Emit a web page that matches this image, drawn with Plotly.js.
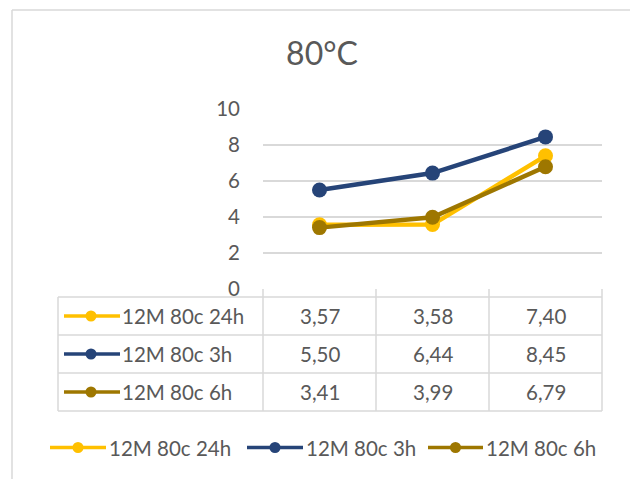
<!DOCTYPE html>
<html>
<head>
<meta charset="utf-8">
<script src="https://cdn.plot.ly/plotly-3.0.1.min.js"></script>
<style>
  html, body { margin: 0; padding: 0; background: #ffffff; }
  #chart { width: 630px; height: 479px; }
</style>
</head>
<body>
<div id="chart"></div>
<script>
// Series data (one value per column of the data table)
const categories = [0, 1, 2];
const seriesNames = ['12M 80c 24h', '12M 80c 3h', '12M 80c 6h'];
const values24h = [3.57, 3.58, 7.40];
const values3h = [5.50, 6.44, 8.45];
const values6h = [3.41, 3.99, 6.79];
const yTicks = [0, 2, 4, 6, 8, 10];
const chartTitle = '80°C';

const seriesValues = [values24h, values3h, values6h];
const colors = ['#FFC000', '#264478', '#9E7700'];
const textColor = '#595959';
const gridColor = '#d9d9d9';
const fontFamily = 'Lato, "Open Sans", sans-serif';
const fontSize = 20.5;

// Plot area geometry in pixels (used to convert to paper coordinates)
const W = 630, H = 479;
const L = 263, R = 28, T = 109, B = 190;
const plotW = W - L - R, plotH = H - T - B;
const px = X => (X - L) / plotW;
const py = Y => (H - B - Y) / plotH;

const fmt = v => v.toFixed(2).replace('.', ',');

const traces = seriesValues.map((vals, i) => ({
  type: 'scatter',
  mode: 'lines+markers',
  x: categories,
  y: vals,
  name: seriesNames[i],
  line: { color: colors[i], width: 4.5 },
  marker: { color: colors[i], size: 15 },
  showlegend: false,
  hoverinfo: 'skip'
}));

const shapes = [];
const annotations = [];
const lineStyle = { color: gridColor, width: 1.5 };

// Outer chart border (left and top edges)
shapes.push({ type: 'line', xref: 'paper', yref: 'paper', x0: px(12), x1: px(12), y0: py(10), y1: py(479), line: lineStyle });
shapes.push({ type: 'line', xref: 'paper', yref: 'paper', x0: px(12), x1: px(630), y0: py(10), y1: py(10), line: lineStyle });

// Data table grid
const rowLines = [297, 335, 373, 411];
const tableLeft = 58;
rowLines.forEach(Y => {
  shapes.push({ type: 'line', xref: 'paper', yref: 'paper', x0: px(tableLeft), x1: 1, y0: py(Y), y1: py(Y), line: lineStyle });
});
shapes.push({ type: 'line', xref: 'paper', yref: 'paper', x0: px(tableLeft), x1: px(tableLeft), y0: py(297), y1: py(411), line: lineStyle });
[0, 1 / 3, 2 / 3, 1].forEach(xd => {
  shapes.push({ type: 'line', xref: 'paper', yref: 'paper', x0: xd, x1: xd, y0: 0, y1: py(411), line: lineStyle });
});

// Legend key: swatch line + dot + label
function addKey(i, x0, x1, xm, xt, yc, lw, r) {
  shapes.push({ type: 'line', xref: 'paper', yref: 'paper', x0: px(x0), x1: px(x1), y0: py(yc), y1: py(yc), line: { color: colors[i], width: lw } });
  shapes.push({ type: 'circle', xref: 'paper', yref: 'paper', xsizemode: 'pixel', ysizemode: 'pixel',
    xanchor: px(xm), yanchor: py(yc), x0: -r, x1: r, y0: -r, y1: r, fillcolor: colors[i], line: { width: 0 } });
  annotations.push({ xref: 'paper', yref: 'paper', x: px(xt), y: py(yc), xanchor: 'left', yanchor: 'middle',
    text: seriesNames[i], showarrow: false, font: { family: fontFamily, size: fontSize, color: textColor } });
}

// Table rows: key + values
const rowCenters = [316, 354, 392];
seriesValues.forEach((vals, i) => {
  addKey(i, 64, 120, 91, 120, rowCenters[i], 3.5, 5.5);
  vals.forEach((v, j) => {
    annotations.push({ xref: 'x', yref: 'paper', x: categories[j], y: py(rowCenters[i]), xanchor: 'center', yanchor: 'middle',
      text: fmt(v), showarrow: false, font: { family: fontFamily, size: fontSize, color: textColor } });
  });
});

// Bottom legend
const legendY = 447.5;
const legendPos = [[50, 106, 78, 107], [247, 303, 275, 304], [428, 483, 455.5, 484]];
legendPos.forEach((p, i) => addKey(i, p[0], p[1], p[2], p[3], legendY, 3.5, 5.5));

const layout = {
  width: W,
  height: H,
  margin: { l: L, r: R, t: T, b: B, pad: 0 },
  paper_bgcolor: '#ffffff',
  plot_bgcolor: '#ffffff',
  font: { family: fontFamily, color: textColor, size: fontSize },
  title: {
    text: chartTitle,
    x: 322 / W, xanchor: 'center', xref: 'container',
    y: 1 - 54 / H, yanchor: 'middle', yref: 'container',
    font: { family: fontFamily, size: 32, color: textColor }
  },
  xaxis: {
    range: [-0.5, 2.5],
    showticklabels: false,
    showgrid: false,
    zeroline: false,
    showline: false,
    ticks: ''
  },
  yaxis: {
    range: [0, 10],
    tickvals: yTicks,
    ticktext: yTicks.map(String),
    showgrid: true,
    gridcolor: gridColor,
    gridwidth: 1.5,
    zeroline: false,
    showline: false,
    ticks: '',
    ticklabelstandoff: 22,
    tickfont: { family: fontFamily, size: fontSize, color: textColor }
  },
  shapes: shapes,
  annotations: annotations,
  showlegend: false
};

Plotly.newPlot('chart', traces, layout, { staticPlot: true, displayModeBar: false });
</script>
</body>
</html>
